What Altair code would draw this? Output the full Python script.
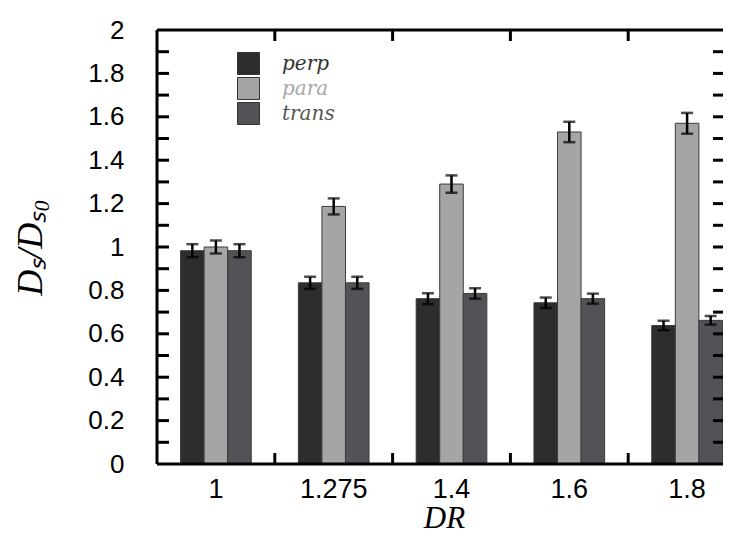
import altair as alt
import pandas as pd

groups = ["1", "1.275", "1.4", "1.6", "1.8"]
series = ["perp", "para", "trans"]
perp = [0.983, 0.835, 0.762, 0.743, 0.638]
para = [1.000, 1.187, 1.290, 1.530, 1.570]
trans = [0.983, 0.835, 0.786, 0.762, 0.662]
perp_err = [0.030, 0.028, 0.025, 0.024, 0.022]
para_err = [0.030, 0.037, 0.040, 0.047, 0.048]
trans_err = [0.030, 0.028, 0.024, 0.023, 0.020]
colors = ["#2d2d2d", "#a5a5a5", "#535357"]
label_colors = ["#333333", "#a8a8a8", "#555555"]
y_label_values = [0, 0.2, 0.4, 0.6, 0.8, 1.0, 1.2, 1.4, 1.6, 1.8, 2.0]
y_tick_values = [0.1, 0.2, 0.3, 0.4, 0.5, 0.6, 0.7, 0.8, 0.9, 1.0,
                 1.1, 1.2, 1.3, 1.4, 1.5, 1.6, 1.7, 1.8, 1.9]
x_tick_groups = ["1.275", "1.4", "1.6", "1.8"]

W, H = 566, 434

rows = []
for s, vals, errs in [("perp", perp, perp_err), ("para", para, para_err), ("trans", trans, trans_err)]:
    for g, v, e in zip(groups, vals, errs):
        rows.append({"DR": g, "series": s, "value": v, "err": e})
df = pd.DataFrame(rows)

x_axis = alt.Axis(title="DR", labelAngle=0, ticks=False, tickSize=0, domain=False,
                  labelFont="Liberation Sans", labelFontSize=27, labelColor="black",
                  labelPadding=12, titleFont="Liberation Serif", titleFontStyle="italic",
                  titleFontWeight="normal", titleFontSize=31, titleColor="black",
                  titleX=287, titleY=70, titleBaseline="bottom")
y_axis = alt.Axis(title="Dₛ/Dₛ₀", values=y_label_values, format="~g",
                  ticks=False, tickSize=0, domain=False, grid=False,
                  labelFont="Liberation Sans", labelFontSize=26, labelColor="black",
                  labelPadding=33, titleFont="Liberation Serif", titleFontStyle="italic",
                  titleFontWeight="normal", titleFontSize=36, titleColor="black",
                  titlePadding=38)
x_scale = alt.Scale(domain=groups, range=[0, 589], paddingInner=0, paddingOuter=0)
x_enc = alt.X("DR:N", sort=groups, scale=x_scale, axis=x_axis)
xoff = alt.XOffset("series:N", sort=series,
                   scale=alt.Scale(domain=series, paddingInner=0, paddingOuter=1))
y_scale = alt.Scale(domain=[0, 2], nice=False, zero=True)

color_expr = ("datum.value == 'perp' ? '%s' : datum.value == 'para' ? '%s' : '%s'"
              % tuple(label_colors))

bars = alt.Chart(df).mark_bar(stroke="#3c3c3c", strokeWidth=1).encode(
    x=x_enc,
    xOffset=xoff,
    y=alt.Y("value:Q", scale=y_scale, axis=y_axis),
    color=alt.Color("series:N", sort=series,
                    scale=alt.Scale(domain=series, range=colors),
                    legend=alt.Legend(orient="none", legendX=80, legendY=22, title=None,
                                      symbolType="square", symbolSize=484,
                                      symbolStrokeColor="#333333", symbolStrokeWidth=1,
                                      symbolOpacity=1, rowPadding=-4, labelOffset=22,
                                      labelFont="DejaVu Serif", labelFontStyle="italic",
                                      labelFontSize=20, labelColor={"expr": color_expr},
                                      padding=0)),
)

base_err = alt.Chart(df).transform_calculate(
    lo="datum.value - datum.err", hi="datum.value + datum.err")

err_rule = base_err.mark_rule(color="black", strokeWidth=2.5).encode(
    x=x_enc, xOffset=xoff, y=alt.Y("lo:Q", scale=y_scale, axis=y_axis), y2="hi:Q")
cap_lo = base_err.mark_tick(color="black", thickness=2.5, size=12, orient="horizontal").encode(
    x=x_enc, xOffset=xoff, y=alt.Y("lo:Q", scale=y_scale, axis=y_axis))
cap_hi = base_err.mark_tick(color="black", thickness=2.5, size=12, orient="horizontal").encode(
    x=x_enc, xOffset=xoff, y=alt.Y("hi:Q", scale=y_scale, axis=y_axis))

ytick_df = pd.DataFrame({"v": y_tick_values})
left_ticks = alt.Chart(ytick_df).mark_rule(color="black", strokeWidth=3).encode(
    y=alt.Y("v:Q", scale=y_scale, axis=y_axis), x=alt.value(0), x2=alt.value(12))
right_ticks = alt.Chart(ytick_df).mark_rule(color="black", strokeWidth=3).encode(
    y=alt.Y("v:Q", scale=y_scale, axis=y_axis), x=alt.value(W - 10), x2=alt.value(W))

xtick_df = pd.DataFrame({"DR": x_tick_groups})
x_tick_enc = alt.X("DR:N", sort=groups, bandPosition=0, scale=x_scale, axis=x_axis)
bottom_ticks = alt.Chart(xtick_df).mark_rule(color="black", strokeWidth=3).encode(
    x=x_tick_enc, y=alt.value(H), y2=alt.value(H - 11))
top_ticks = alt.Chart(xtick_df).mark_rule(color="black", strokeWidth=3).encode(
    x=x_tick_enc, y=alt.value(0), y2=alt.value(11))

frame_df = pd.DataFrame({"k": [0]})
left_line = alt.Chart(frame_df).mark_rule(color="black", strokeWidth=3).encode(
    x=alt.value(0), y=alt.value(0), y2=alt.value(H))
bottom_line = alt.Chart(frame_df).mark_rule(color="black", strokeWidth=3).encode(
    x=alt.value(0), x2=alt.value(W), y=alt.value(H))
top_line = alt.Chart(frame_df).mark_rule(color="black", strokeWidth=3).encode(
    x=alt.value(0), x2=alt.value(W), y=alt.value(0))

chart = alt.layer(
    bars, err_rule, cap_lo, cap_hi, left_ticks, right_ticks, bottom_ticks, top_ticks,
    left_line, bottom_line, top_line
).properties(
    width=W, height=H,
    autosize=alt.AutoSizeParams(type="none"),
    padding={"left": 149, "top": 22, "right": 0, "bottom": 70}
).configure_view(stroke=None).configure(background="white")

chart.save("out.html", embed_options={"renderer": "svg", "actions": False})
